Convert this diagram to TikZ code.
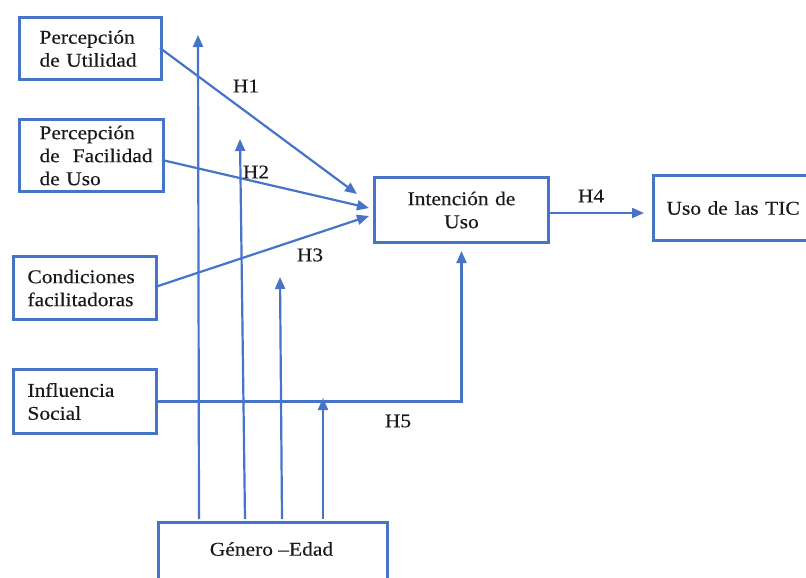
\documentclass[tikz,border=0pt]{standalone}
\usepackage{fontspec}
\setmainfont{Liberation Serif}[FakeStretch=1.1,FakeBold=0.3]
\usetikzlibrary{arrows.meta}
\definecolor{bl}{RGB}{70,116,200}
\definecolor{tx}{RGB}{25,25,25}
\tikzset{
  box/.style={draw=bl, line width=3pt, anchor=north west, inner sep=0pt, text=tx,
    font=\fontsize{19.5}{23}\selectfont},
  lbox/.style={box, align=left},
  cbox/.style={box, align=center},
  arr/.style={draw=bl, line width=2.2pt, -{Triangle[length=12pt,width=10pt]}},
  hlab/.style={text=tx, font=\fontsize{19.5}{23}\selectfont, inner sep=0pt}
}
\begin{document}
\begin{tikzpicture}[x=1pt,y=-1pt]
\useasboundingbox (0,0) rectangle (806,578);
\clip (0,0) rectangle (806,578);
\fill[white] (0,0) rectangle (806,578);

% boxes
\node[lbox, minimum width=142pt, minimum height=62pt, text width=128pt] (PU) at (18,16)
  {\hspace*{13pt}Percepción\\\hspace*{13pt}de Utilidad};
\node[lbox, minimum width=144pt, minimum height=72pt, text width=130pt] (PF) at (18,118)
  {\hspace*{13pt}Percepción\\\hspace*{13pt}de\ \ Facilidad\\\hspace*{13pt}de Uso};
\node[lbox, minimum width=143pt, minimum height=63pt, text width=143pt] (CF) at (12,255)
  {\hspace*{14pt}Condiciones\\\hspace*{14pt}facilitadoras};
\node[lbox, minimum width=143pt, minimum height=64pt, text width=143pt] (IS) at (12,368)
  {\hspace*{14pt}Influencia\\\hspace*{14pt}Social};
\node[cbox, minimum width=174pt, minimum height=65pt, text width=174pt] (IU) at (373,176)
  {Intención de\\Uso};
\node[lbox, minimum width=180pt, minimum height=65pt, text width=180pt] (UT) at (652,174)
  {\hspace*{13pt}Uso de\hspace{7pt}las TIC};
\node[box, minimum width=229pt, minimum height=90pt] (GE) at (157,521) {};
\node[hlab] (GEt) at (271.5,549) {Género –Edad};

% hypothesis arrows
\coordinate (h1e) at (357,194);
\coordinate (h2e) at (369,208);
\coordinate (h3e) at (369,216);
\coordinate (pus) at (160,48);
\coordinate (pfs) at (162,160);
\coordinate (cfs) at (155,287);
\coordinate (h4s) at (547,213);
\coordinate (h4e) at (644,213);
\draw[arr] (pus) -- (h1e);
\draw[arr] (pfs) -- (h2e);
\draw[arr] (cfs) -- (h3e);
\draw[arr] (h4s) -- (h4e);
\draw[arr, shorten >=7pt] (IS.east) -| (IU.south);

% moderator arrows
\coordinate (g1) at (199,519); \coordinate (t1) at (198,35);
\coordinate (g2) at (245,519); \coordinate (t2) at (240,139);
\coordinate (g3) at (282,519); \coordinate (t3) at (280,277);
\coordinate (g4) at (323,519); \coordinate (t4) at (323,398);
\draw[arr] (g1) -- (t1);
\draw[arr] (g2) -- (t2);
\draw[arr] (g3) -- (t3);
\draw[arr] (g4) -- (t4);

% labels
\node[hlab] (H1) at (246,86) {H1};
\node[hlab] (H2) at (256,172) {H2};
\node[hlab] (H3) at (310,255) {H3};
\node[hlab] (H4) at (591,196) {H4};
\node[hlab] (H5) at (398,421) {H5};
\end{tikzpicture}
\end{document}
